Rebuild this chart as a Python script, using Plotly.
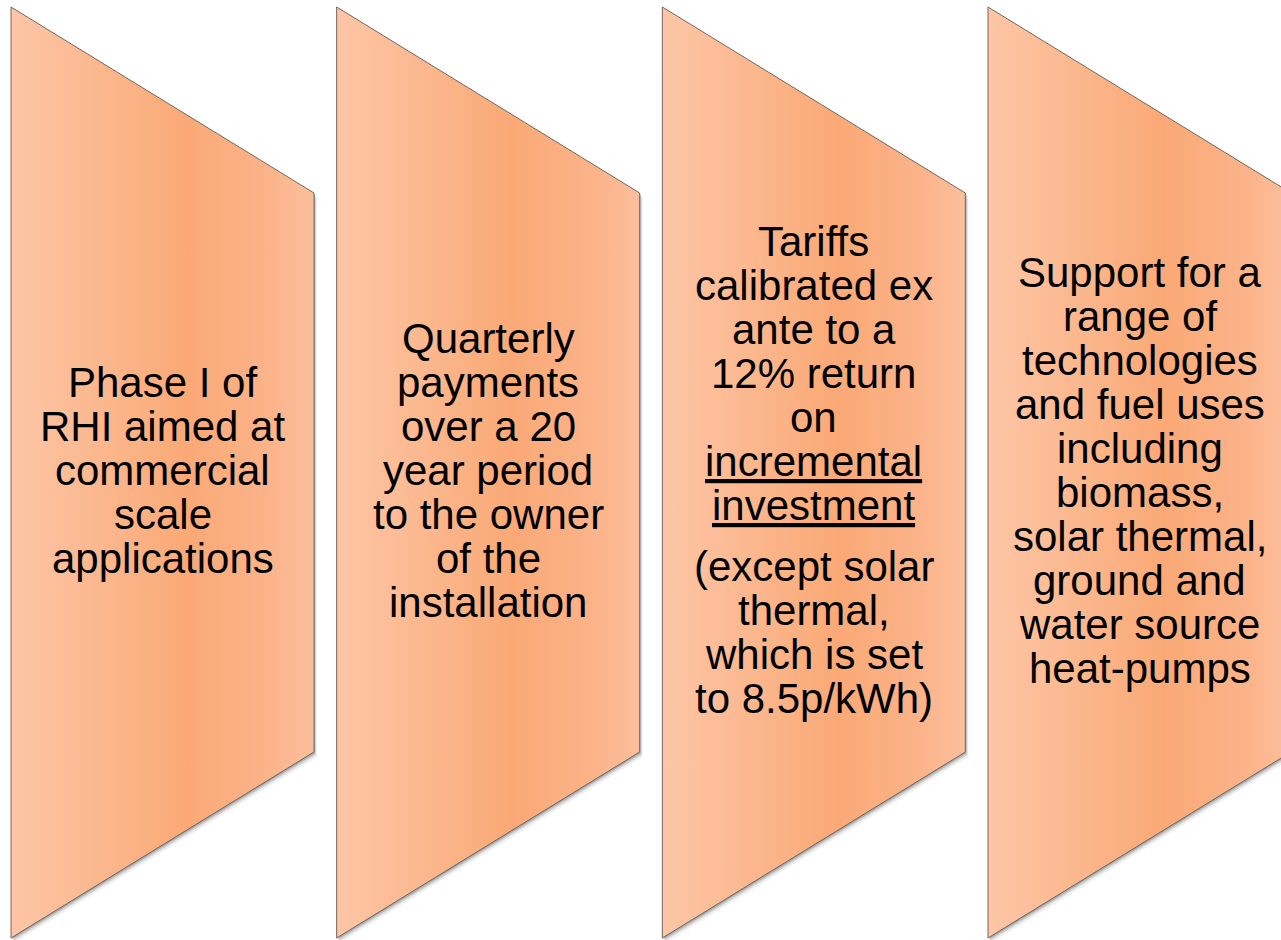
import plotly.graph_objects as go

# ---- content (text of each panel; inner lists are paragraphs) ----
panel_1 = [["Phase I of", "RHI aimed at", "commercial", "scale", "applications"]]
panel_2 = [["Quarterly", "payments", "over a 20", "year period", "to the owner", "of the", "installation"]]
panel_3 = [["Tariffs", "calibrated ex", "ante to a", "12% return", "on", "incremental", "investment"],
           ["(except solar", "thermal,", "which is set", "to 8.5p/kWh)"]]
panel_4 = [["Support for a", "range of", "technologies", "and fuel uses", "including", "biomass,",
            "solar thermal,", "ground and", "water source", "heat-pumps"]]
panels = [panel_1, panel_2, panel_3, panel_4]
underlined = ["incremental", "investment"]

# ---- layout constants (pixel space) ----
W, H = 1281, 940
x_start, pitch, box_w = 11, 325.67, 303
top, bottom, slant = 7, 938, 186
centre_baseline = 485
line_pitch, para_gap = 44, 17
font_size = 42
fill_scale = [[0.0, "#FDC6A7"], [0.3, "#FBB78D"], [0.58, "#FAA976"], [0.85, "#FBB389"], [1.0, "#FCBF9C"]]
edge_color = "#75645B"

fig = go.Figure()
annotations = []

for i, panel in enumerate(panels):
    left = x_start + i * pitch
    right = left + box_w
    xs = [left, right, right, left, left]
    ys = [top, top + slant, bottom - slant, bottom, top]
    # soft drop shadow
    for dx, dy, a in [(3, 5, 0.06), (2, 3, 0.12), (1, 1.5, 0.18)]:
        fig.add_trace(go.Scatter(
            x=[v + dx for v in xs], y=[v + dy for v in ys], mode="lines",
            fill="toself", fillcolor=f"rgba(0,0,0,{a})", line=dict(width=0),
            hoverinfo="skip", showlegend=False))
    fig.add_trace(go.Scatter(
        x=xs, y=ys, mode="lines", fill="toself",
        fillgradient=dict(type="horizontal", colorscale=fill_scale, start=left, stop=right),
        line=dict(color=edge_color, width=1),
        hoverinfo="skip", showlegend=False))

    # text baselines, vertically centred on the panel
    offsets = []
    pos = 0.0
    for p, para in enumerate(panel):
        if p > 0:
            pos += para_gap
        for j, line in enumerate(para):
            offsets.append((line, pos))
            pos += line_pitch
    span = offsets[-1][1]
    cx = left + box_w / 2
    for line, off in offsets:
        baseline = centre_baseline - span / 2 + off
        font = dict(family="Liberation Sans, Arial, sans-serif", size=font_size, color="black")
        if line in underlined:
            font["lineposition"] = "under"
        annotations.append(dict(
            x=cx, y=baseline - 0.346 * font_size, xref="x", yref="y",
            text=line, showarrow=False, xanchor="center", yanchor="middle",
            font=font))

fig.update_layout(
    width=W, height=H,
    margin=dict(l=0, r=0, t=0, b=0),
    paper_bgcolor="white", plot_bgcolor="white",
    xaxis=dict(range=[0, W], visible=False, fixedrange=True),
    yaxis=dict(range=[H, 0], visible=False, fixedrange=True),
    annotations=annotations,
    showlegend=False,
)

fig.write_html("out.html", config={"displayModeBar": False},
               post_script="document.body.style.margin='0';document.body.style.overflow='hidden';")
